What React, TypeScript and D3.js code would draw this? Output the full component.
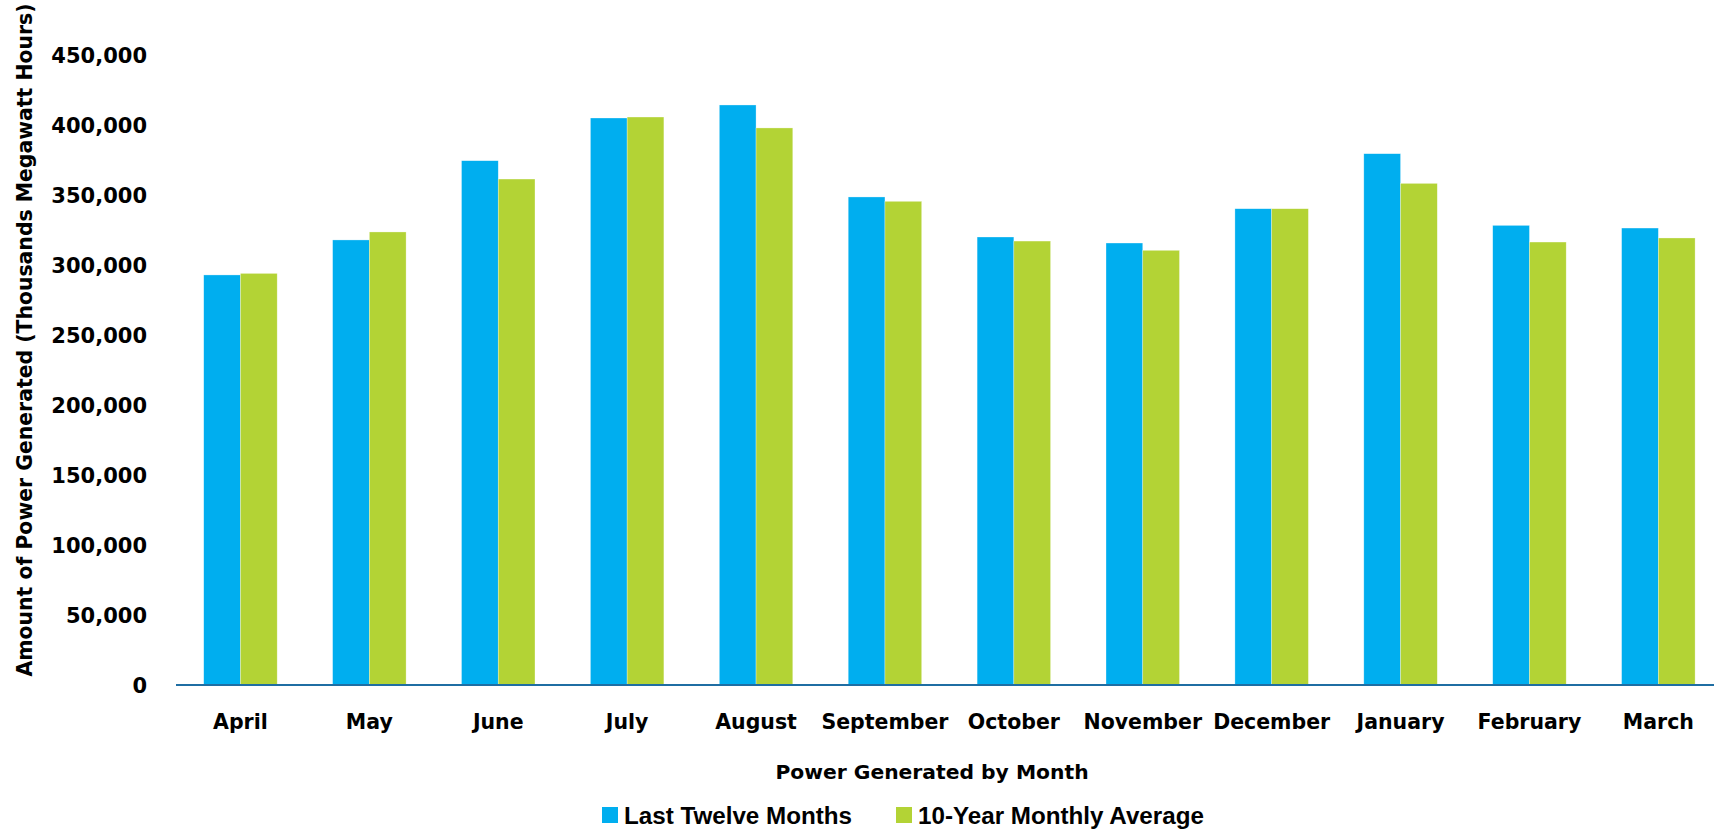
import React from "react";
import * as d3 from "d3";

// Monthly generation, thousands of megawatt hours
const months = [
  "April", "May", "June", "July", "August", "September",
  "October", "November", "December", "January", "February", "March",
];
const lastTwelveMonths = [
  292900, 317900, 374500, 405000, 414300, 348600,
  320000, 315700, 340200, 379500, 328300, 326400,
];
const tenYearAverage = [
  294000, 323600, 361400, 405700, 397900, 345500,
  317100, 310500, 340200, 358300, 316400, 319300,
];
const seriesNames = ["Last Twelve Months", "10-Year Monthly Average"];
const seriesColors = ["#00aeef", "#b3d335"];
const yTicks = [0, 50000, 100000, 150000, 200000, 250000, 300000, 350000, 400000, 450000];

const W = 1714;
const H = 830;
const FONT = "'DejaVu Sans', Verdana, sans-serif";
const LEGEND_FONT = "'Liberation Sans', Arial, sans-serif";

export default function App() {
  const x0 = d3
    .scaleBand<string>()
    .domain(months)
    .range([176, 1722.8])
    .paddingInner(0.43)
    .paddingOuter(0.215);
  const x1 = d3
    .scaleBand<string>()
    .domain(seriesNames)
    .range([0, x0.bandwidth()])
    .padding(0);
  const y = d3.scaleLinear().domain([0, 450000]).range([685, 55]);
  const fmt = d3.format(",");

  const rows = months.map((m, i) => ({
    month: m,
    values: [lastTwelveMonths[i], tenYearAverage[i]],
  }));

  return (
    <svg
      width={W}
      height={H}
      style={{ position: "absolute", left: 0, top: 0, background: "#fff" }}
    >
      {/* bars */}
      {rows.map((r) => (
        <g key={r.month} transform={`translate(${x0(r.month)},0)`}>
          {r.values.map((v, j) => (
            <rect
              key={j}
              x={x1(seriesNames[j])}
              y={y(v)}
              width={x1.bandwidth()}
              height={y(0) - y(v)}
              fill={seriesColors[j]}
              stroke="#ffffff"
              strokeOpacity={0.5}
              strokeWidth={0.6}
            />
          ))}
        </g>
      ))}

      {/* baseline */}
      <line x1={176} x2={W} y1={y(0)} y2={y(0)} stroke="#1f6ea3" strokeWidth={2} />

      {/* y tick labels */}
      {yTicks.map((t) => (
        <text
          key={t}
          x={147}
          y={y(t)}
          dy="0.36em"
          textAnchor="end"
          fontFamily={FONT}
          fontWeight={700}
          fontSize={21}
          fill="#000"
        >
          {fmt(t)}
        </text>
      ))}

      {/* month labels */}
      {months.map((m) => (
        <text
          key={m}
          x={(x0(m) as number) + x0.bandwidth() / 2}
          y={722}
          dy="0.36em"
          textAnchor="middle"
          fontFamily={FONT}
          fontWeight={700}
          fontSize={20.5}
          fill="#000"
        >
          {m}
        </text>
      ))}

      {/* axis titles */}
      <text
        x={932}
        y={772}
        dy="0.36em"
        textAnchor="middle"
        fontFamily={FONT}
        fontWeight={700}
        fontSize={20.3}
        fill="#000"
      >
        Power Generated by Month
      </text>
      <text
        transform={`translate(25,340) rotate(-90)`}
        dy="0.36em"
        textAnchor="middle"
        fontFamily={FONT}
        fontWeight={700}
        fontSize={20.4}
        fill="#000"
      >
        Amount of Power Generated (Thousands Megawatt Hours)
      </text>

      {/* legend */}
      {[
        { x: 602, tx: 624 },
        { x: 896, tx: 918 },
      ].map((p, i) => (
        <g key={seriesNames[i]}>
          <rect x={p.x} y={807} width={16} height={16} fill={seriesColors[i]} />
          <text
            x={p.tx}
            y={815}
            dy="0.36em"
            fontFamily={LEGEND_FONT}
            fontWeight={700}
            fontSize={24.2}
            fill="#000"
          >
            {seriesNames[i]}
          </text>
        </g>
      ))}
    </svg>
  );
}
